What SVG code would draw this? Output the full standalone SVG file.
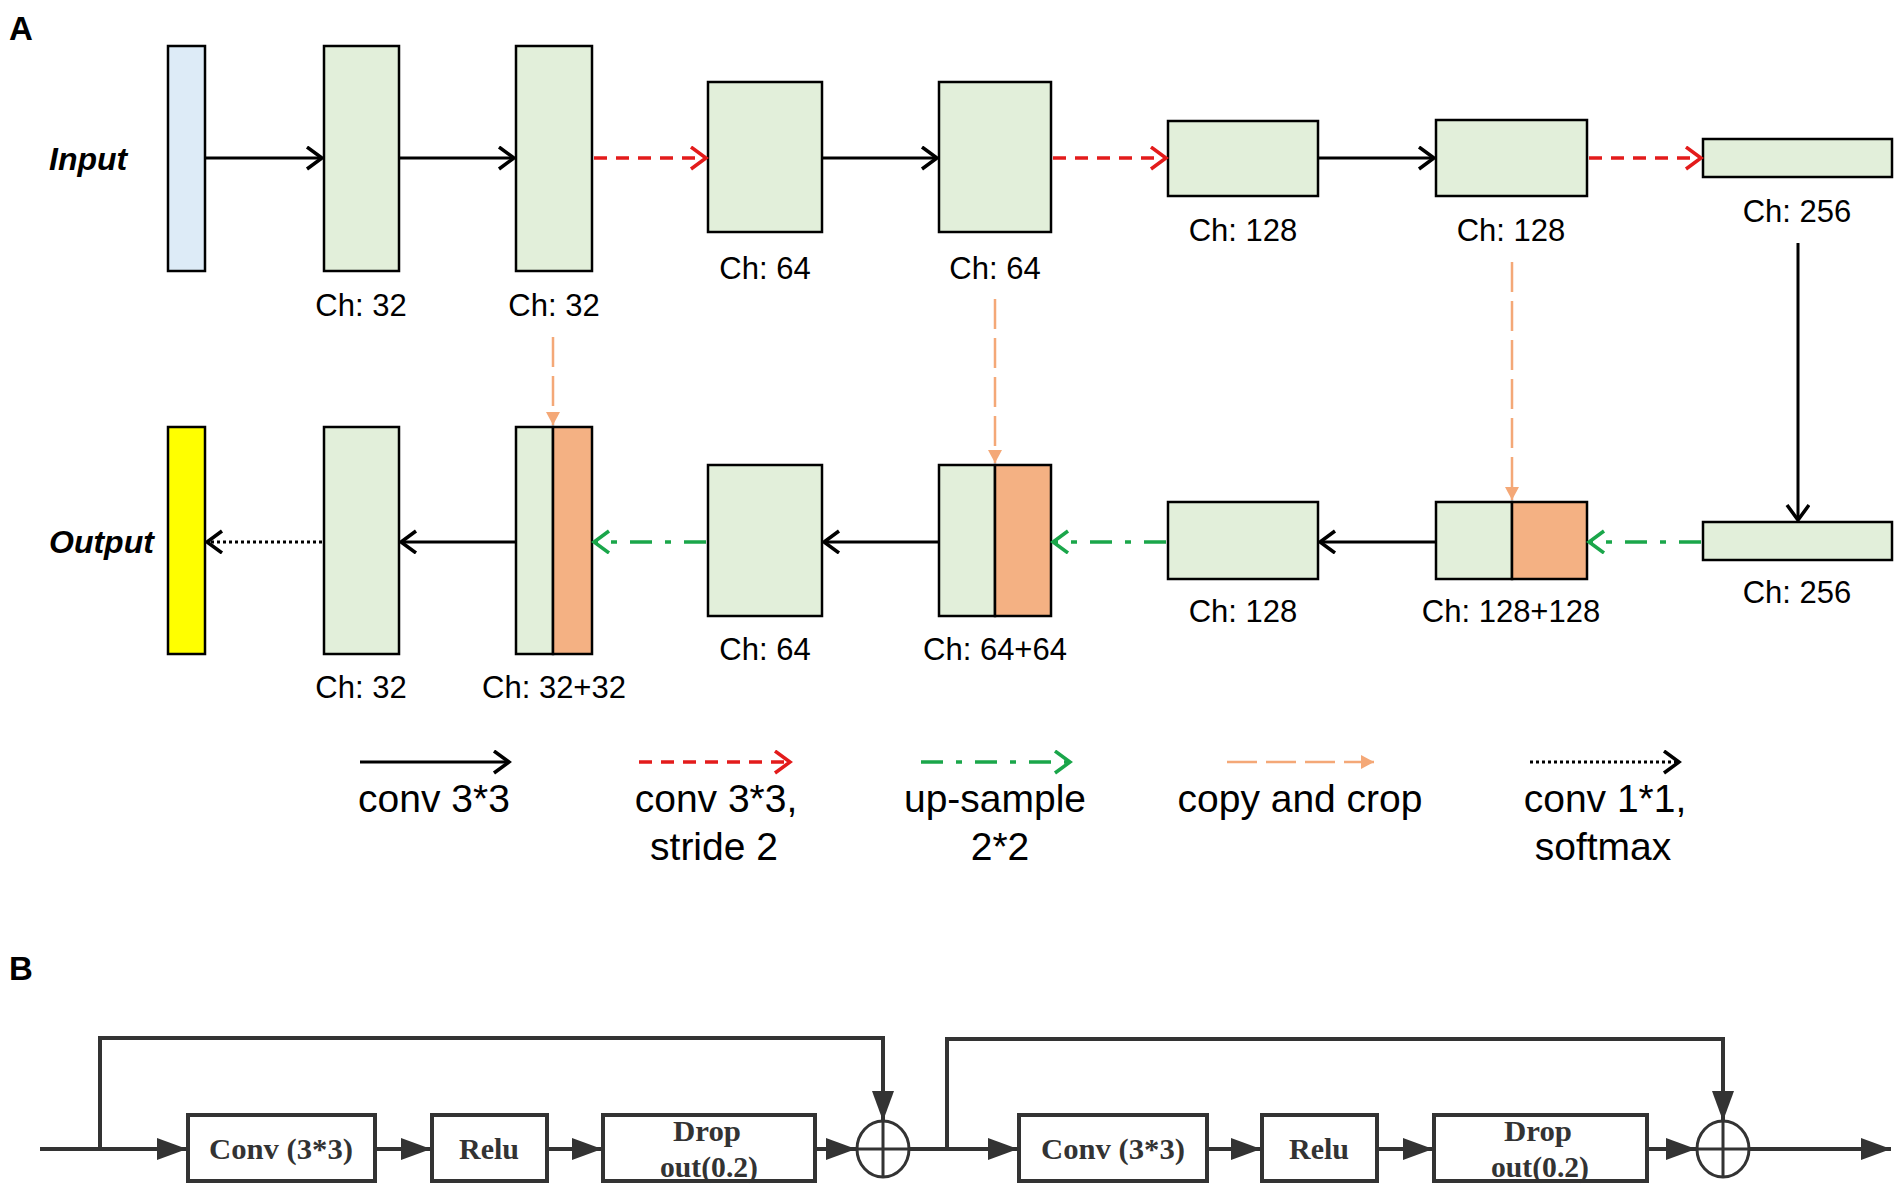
<svg xmlns="http://www.w3.org/2000/svg" width="1904" height="1196" viewBox="0 0 1904 1196">
<defs>
<style>
.box{stroke:#000;stroke-width:2.5}
.g{fill:#E2EFDA}
.b{fill:#DDEBF7}
.y{fill:#FFFF00}
.o{fill:#F4B183}
.lbl{font-family:"Liberation Sans",Arial,sans-serif;font-size:31px;fill:#000;text-anchor:middle}
.leg{font-family:"Liberation Sans",Arial,sans-serif;font-size:39px;fill:#000;text-anchor:middle}
.io{font-family:"Liberation Sans",Arial,sans-serif;font-size:32px;font-weight:bold;font-style:italic;fill:#000}
.pan{font-family:"Liberation Sans",Arial,sans-serif;font-size:33px;font-weight:bold;fill:#000}
.blk{stroke:#000;stroke-width:3;fill:none}
.red{stroke:#E31B1B;stroke-width:3.5;fill:none;stroke-dasharray:13 9}
.grn{stroke:#1AA64A;stroke-width:3.5;fill:none;stroke-dasharray:22 13 6 13}
.org{stroke:#F4A877;stroke-width:2.5;fill:none;stroke-dasharray:30 9}
.dot{stroke:#000;stroke-width:3;fill:none;stroke-dasharray:3 3}
.bl{stroke:#333;stroke-width:4;fill:none}
.bbox{fill:#fff;stroke:#333;stroke-width:4}
.bt{font-family:"Liberation Serif","Times New Roman",serif;font-size:29px;font-weight:bold;fill:#333;text-anchor:middle}
</style>
<marker id="chk" markerUnits="userSpaceOnUse" markerWidth="24" markerHeight="28" refX="17" refY="12" orient="auto">
<path d="M2,1 L17,12 L2,23" fill="none" stroke="#000" stroke-width="3.5"/>
</marker>
<marker id="chr" markerUnits="userSpaceOnUse" markerWidth="24" markerHeight="28" refX="17" refY="12" orient="auto">
<path d="M2,1 L17,12 L2,23" fill="none" stroke="#E31B1B" stroke-width="3.5"/>
</marker>
<marker id="chg" markerUnits="userSpaceOnUse" markerWidth="24" markerHeight="28" refX="17" refY="12" orient="auto">
<path d="M2,1 L17,12 L2,23" fill="none" stroke="#1AA64A" stroke-width="3.5"/>
</marker>
<marker id="tro" markerUnits="userSpaceOnUse" markerWidth="16" markerHeight="16" refX="13" refY="7" orient="auto">
<path d="M0,0 L13,7 L0,14 z" fill="#F4A877"/>
</marker>
<marker id="trd" markerUnits="userSpaceOnUse" markerWidth="32" markerHeight="24" refX="30" refY="11" orient="auto">
<path d="M0,0 L30,11 L0,22 z" fill="#333"/>
</marker>
</defs>
<rect width="1904" height="1196" fill="#fff"/>

<text class="pan" x="9" y="40">A</text>
<text class="pan" x="9" y="980">B</text>
<text class="io" x="49" y="170">Input</text>
<text class="io" x="49" y="553">Output</text>

<g id="in"><rect class="box b" x="168" y="46" width="37" height="225"/></g>
<g id="e1"><rect class="box g" x="324" y="46" width="75" height="225"/><text class="lbl" x="361" y="316">Ch: 32</text></g>
<g id="e2"><rect class="box g" x="516" y="46" width="76" height="225"/><text class="lbl" x="554" y="316">Ch: 32</text></g>
<g id="e3"><rect class="box g" x="708" y="82" width="114" height="150"/><text class="lbl" x="765" y="279">Ch: 64</text></g>
<g id="e4"><rect class="box g" x="939" y="82" width="112" height="150"/><text class="lbl" x="995" y="279">Ch: 64</text></g>
<g id="e5"><rect class="box g" x="1168" y="121" width="150" height="75"/><text class="lbl" x="1243" y="241">Ch: 128</text></g>
<g id="e6"><rect class="box g" x="1436" y="120" width="151" height="76"/><text class="lbl" x="1511" y="241">Ch: 128</text></g>
<g id="e7"><rect class="box g" x="1703" y="139" width="189" height="38"/><text class="lbl" x="1797" y="222">Ch: 256</text></g>

<g id="d7"><rect class="box g" x="1703" y="522" width="189" height="38"/><text class="lbl" x="1797" y="603">Ch: 256</text></g>
<g id="d6"><rect class="box g" x="1436" y="502" width="76" height="77"/><rect class="box o" x="1512" y="502" width="75" height="77"/><text class="lbl" x="1511" y="622">Ch: 128+128</text></g>
<g id="d5"><rect class="box g" x="1168" y="502" width="150" height="77"/><text class="lbl" x="1243" y="622">Ch: 128</text></g>
<g id="d4"><rect class="box g" x="939" y="465" width="56" height="151"/><rect class="box o" x="995" y="465" width="56" height="151"/><text class="lbl" x="995" y="660">Ch: 64+64</text></g>
<g id="d3"><rect class="box g" x="708" y="465" width="114" height="151"/><text class="lbl" x="765" y="660">Ch: 64</text></g>
<g id="d2"><rect class="box g" x="516" y="427" width="37" height="227"/><rect class="box o" x="553" y="427" width="39" height="227"/><text class="lbl" x="554" y="698">Ch: 32+32</text></g>
<g id="d1"><rect class="box g" x="324" y="427" width="75" height="227"/><text class="lbl" x="361" y="698">Ch: 32</text></g>
<g id="out"><rect class="box y" x="168" y="427" width="37" height="227"/></g>

<g id="connectors">
<line class="blk" x1="205" y1="158" x2="322" y2="158" marker-end="url(#chk)"/>
<line class="blk" x1="399" y1="158" x2="514" y2="158" marker-end="url(#chk)"/>
<line class="blk" x1="822" y1="158" x2="937" y2="158" marker-end="url(#chk)"/>
<line class="blk" x1="1318" y1="158" x2="1434" y2="158" marker-end="url(#chk)"/>
<line class="red" x1="594" y1="158" x2="706" y2="158" marker-end="url(#chr)"/>
<line class="red" x1="1053" y1="158" x2="1166" y2="158" marker-end="url(#chr)"/>
<line class="red" x1="1589" y1="158" x2="1701" y2="158" marker-end="url(#chr)"/>
<line class="blk" x1="1798" y1="243" x2="1798" y2="520" marker-end="url(#chk)"/>
<line class="grn" x1="1701" y1="542" x2="1589" y2="542" marker-end="url(#chg)"/>
<line class="blk" x1="1436" y1="542" x2="1320" y2="542" marker-end="url(#chk)"/>
<line class="grn" x1="1166" y1="542" x2="1053" y2="542" marker-end="url(#chg)"/>
<line class="blk" x1="939" y1="542" x2="824" y2="542" marker-end="url(#chk)"/>
<line class="grn" x1="706" y1="542" x2="594" y2="542" marker-end="url(#chg)"/>
<line class="blk" x1="516" y1="542" x2="401" y2="542" marker-end="url(#chk)"/>
<line class="dot" x1="322" y1="542" x2="207" y2="542" marker-end="url(#chk)"/>
<line class="org" x1="553" y1="337" x2="553" y2="425" marker-end="url(#tro)"/>
<line class="org" x1="995" y1="299" x2="995" y2="463" marker-end="url(#tro)"/>
<line class="org" x1="1512" y1="262" x2="1512" y2="500" marker-end="url(#tro)"/>
</g>

<g id="legend">
<line class="blk" x1="360" y1="762" x2="509" y2="762" marker-end="url(#chk)"/>
<text class="leg" x="434" y="812">conv 3*3</text>
<line class="red" x1="639" y1="762" x2="790" y2="762" marker-end="url(#chr)"/>
<text class="leg" x="716" y="812">conv 3*3,</text>
<text class="leg" x="714" y="860">stride 2</text>
<line class="grn" x1="921" y1="762" x2="1070" y2="762" marker-end="url(#chg)"/>
<text class="leg" x="995" y="812">up-sample</text>
<text class="leg" x="1000" y="860">2*2</text>
<line class="org" x1="1227" y1="762" x2="1374" y2="762" stroke-width="3.5" marker-end="url(#tro)"/>
<text class="leg" x="1300" y="812">copy and crop</text>
<line class="dot" x1="1530" y1="762" x2="1679" y2="762" marker-end="url(#chk)"/>
<text class="leg" x="1605" y="812">conv 1*1,</text>
<text class="leg" x="1603" y="860">softmax</text>
</g>

<g id="panelB-connectors">
<line class="bl" x1="40" y1="1149" x2="187" y2="1149" marker-end="url(#trd)"/>
<path class="bl" d="M100,1149 V1038 H883 V1121" marker-end="url(#trd)"/>
<line class="bl" x1="375" y1="1149" x2="431" y2="1149" marker-end="url(#trd)"/>
<line class="bl" x1="547" y1="1149" x2="602" y2="1149" marker-end="url(#trd)"/>
<line class="bl" x1="815" y1="1149" x2="856" y2="1149" marker-end="url(#trd)"/>
<line class="bl" x1="909" y1="1149" x2="1018" y2="1149" marker-end="url(#trd)"/>
<path class="bl" d="M947,1149 V1039 H1723 V1121" marker-end="url(#trd)"/>
<line class="bl" x1="1207" y1="1149" x2="1261" y2="1149" marker-end="url(#trd)"/>
<line class="bl" x1="1377" y1="1149" x2="1433" y2="1149" marker-end="url(#trd)"/>
<line class="bl" x1="1647" y1="1149" x2="1696" y2="1149" marker-end="url(#trd)"/>
<line class="bl" x1="1749" y1="1149" x2="1891" y2="1149" marker-end="url(#trd)"/>
</g>
<g id="conv1"><rect class="bbox" x="188" y="1115" width="187" height="66"/><text class="bt" x="281" y="1159" textLength="144" lengthAdjust="spacingAndGlyphs">Conv (3*3)</text></g>
<g id="relu1"><rect class="bbox" x="432" y="1115" width="115" height="66"/><text class="bt" x="489" y="1159" textLength="60" lengthAdjust="spacingAndGlyphs">Relu</text></g>
<g id="drop1"><rect class="bbox" x="603" y="1115" width="212" height="66"/><text class="bt" x="707" y="1141" textLength="68" lengthAdjust="spacingAndGlyphs">Drop</text><text class="bt" x="709" y="1177" textLength="98" lengthAdjust="spacingAndGlyphs">out(0.2)</text></g>
<g id="add1"><ellipse cx="883" cy="1149" rx="26" ry="28" fill="#fff" stroke="#333" stroke-width="3"/><path d="M857,1149 H909 M883,1121 V1177" stroke="#333" stroke-width="3"/></g>
<g id="conv2"><rect class="bbox" x="1019" y="1115" width="188" height="66"/><text class="bt" x="1113" y="1159" textLength="144" lengthAdjust="spacingAndGlyphs">Conv (3*3)</text></g>
<g id="relu2"><rect class="bbox" x="1262" y="1115" width="115" height="66"/><text class="bt" x="1319" y="1159" textLength="60" lengthAdjust="spacingAndGlyphs">Relu</text></g>
<g id="drop2"><rect class="bbox" x="1434" y="1115" width="213" height="66"/><text class="bt" x="1538" y="1141" textLength="68" lengthAdjust="spacingAndGlyphs">Drop</text><text class="bt" x="1540" y="1177" textLength="98" lengthAdjust="spacingAndGlyphs">out(0.2)</text></g>
<g id="add2"><ellipse cx="1723" cy="1149" rx="26" ry="28" fill="#fff" stroke="#333" stroke-width="3"/><path d="M1697,1149 H1749 M1723,1121 V1177" stroke="#333" stroke-width="3"/></g>
</svg>
